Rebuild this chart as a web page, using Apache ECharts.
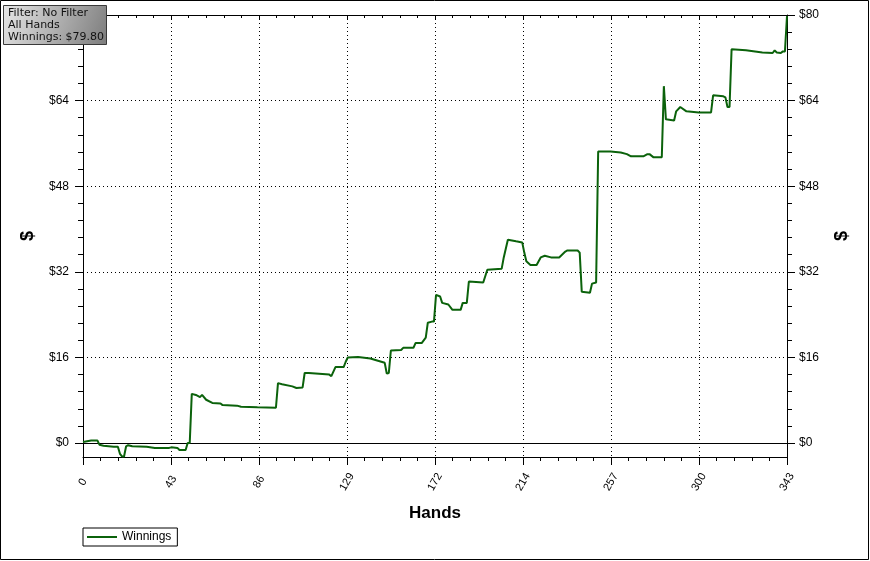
<!DOCTYPE html>
<html><head><meta charset="utf-8">
<script src="https://cdn.jsdelivr.net/npm/echarts@6/dist/echarts.min.js"></script>
<style>html,body{margin:0;padding:0;background:#fff}#c{width:870px;height:561px}</style>
</head><body><div id="c"></div>
<script>
const hands = [0,4,7,8,10,15,17,18,19,20,21,22,24,31,35,42,43,46,47,50,51,52,53,55,57,58,60,63,67,68,75,77,85,94,95,97,102,104,107,108,110,120,121,123,127,128,129,134,140,147,148,149,150,155,156,161,162,165,167,168,170,171,172,174,175,178,180,184,185,187,188,195,197,204,205,207,211,214,215,216,218,221,223,225,228,232,235,236,241,242,243,247,248,250,251,257,262,265,267,273,275,276,278,282,283,284,288,289,291,294,300,306,307,312,313,314,315,316,323,331,336,337,338,340,341,342,343];
const winnings = [0.2,0.5,0.5,-0.3,-0.5,-0.7,-0.7,-2.0,-2.5,-2.5,-0.6,-0.4,-0.6,-0.7,-0.9,-0.9,-0.8,-0.9,-1.3,-1.3,0,0,9.2,9.0,8.6,9.0,8.1,7.5,7.4,7.1,7.0,6.8,6.7,6.6,11.2,11.0,10.6,10.3,10.4,13.1,13.1,12.8,12.5,14.2,14.2,15.2,16.0,16.1,15.8,15.0,13.0,13.1,17.3,17.4,17.8,17.8,18.7,18.7,19.7,22.5,22.7,22.7,27.7,27.4,26.2,25.9,24.9,24.9,26.2,26.2,30.2,30.0,32.4,32.6,34.7,38.0,37.7,37.5,35.6,34.0,33.3,33.3,34.7,35.0,34.7,34.7,35.8,36.0,36.0,35.6,28.3,28.1,29.8,30.0,54.5,54.5,54.3,54.0,53.6,53.6,54.0,54.0,53.4,53.4,66.7,60.5,60.3,62.0,62.8,62.0,61.8,61.8,65.0,64.8,64.6,62.8,62.8,73.6,73.4,73.0,72.9,73.4,73.0,72.9,73.2,73.2,79.8];
const xTickLabels = ['0','43','86','129','172','214','257','300','343'];
const yTickValues = [0,16,32,48,64,80];
const yTickLabels = ['$0','$16','$32','$48','$64','$80'];
const infoLines = ['Filter: No Filter','All Hands','Winnings: $79.80'];
const seriesName = 'Winnings';
const xTitle = 'Hands';
const yTitle = '$';

const X_MIN = 0, X_MAX = 343, X_STEP = X_MAX / (xTickLabels.length - 1);
const Y_MIN = -2.6, Y_MAX = 80;
const yMinor = [];
for (let i = 0; i < yTickValues.length - 1; i++) {
  const a = yTickValues[i], b = yTickValues[i + 1];
  for (let k = 0; k < 5; k++) yMinor.push(+(a + (b - a) * k / 5).toFixed(3));
}
yMinor.push(yTickValues[yTickValues.length - 1]);

const FONT = 'Liberation Sans';
const black = '#000';
const lineColor = '#0b620b';
const labelFmt = v => { const i = yTickValues.indexOf(v); return i >= 0 ? yTickLabels[i] : ''; };

function yAxisBase(pos) {
  return { type: 'value', position: pos, min: Y_MIN, max: Y_MAX };
}
const yAxes = [
  Object.assign(yAxisBase('left'), {
    axisLine: { show: true, lineStyle: { color: black, width: 1 } },
    axisTick: { show: true, length: 5, customValues: yMinor, lineStyle: { color: black } },
    axisLabel: { show: false }, splitLine: { show: false }
  }),
  Object.assign(yAxisBase('left'), {
    axisLine: { show: false },
    axisTick: { show: true, length: 8, customValues: yTickValues, lineStyle: { color: black } },
    axisLabel: { show: true, customValues: yTickValues, formatter: labelFmt, margin: 14, color: black, fontSize: 12, fontFamily: FONT },
    splitLine: { show: true, lineStyle: { color: black, type: [1, 3], width: 1 } },
    name: yTitle, nameLocation: 'middle', nameRotate: 90, nameGap: 46,
    nameTextStyle: { fontSize: 18, fontWeight: 'bold', color: black, fontFamily: FONT }
  }),
  Object.assign(yAxisBase('right'), {
    axisLine: { show: true, lineStyle: { color: black, width: 1 } },
    axisTick: { show: true, length: 5, customValues: yMinor, lineStyle: { color: black } },
    axisLabel: { show: false }, splitLine: { show: false }
  }),
  Object.assign(yAxisBase('right'), {
    axisLine: { show: false },
    axisTick: { show: true, length: 8, customValues: yTickValues, lineStyle: { color: black } },
    axisLabel: { show: true, customValues: yTickValues, formatter: labelFmt, margin: 12, color: black, fontSize: 12, fontFamily: FONT },
    splitLine: { show: false },
    name: yTitle, nameLocation: 'middle', nameRotate: 90, nameGap: 46,
    nameTextStyle: { fontSize: 18, fontWeight: 'bold', color: black, fontFamily: FONT }
  })
];

const option = {
  backgroundColor: '#fff',
  animation: false,
  grid: { left: 83, right: 83, top: 15, bottom: 104, containLabel: false },
  xAxis: [
    {
      type: 'value', position: 'bottom', min: X_MIN, max: X_MAX, interval: X_STEP,
      axisLine: { show: true, onZero: false, lineStyle: { color: black, width: 1 } },
      axisTick: { show: true, length: 8, lineStyle: { color: black } },
      minorTick: { show: true, splitNumber: 5, length: 4, lineStyle: { color: black } },
      axisLabel: {
        rotate: 60, align: 'center', verticalAlign: 'middle', margin: 25,
        formatter: v => xTickLabels[Math.round(v / X_STEP)],
        color: black, fontSize: 11, fontFamily: FONT
      },
      splitLine: { show: true, lineStyle: { color: black, type: [1, 3], width: 1 } },
      name: xTitle, nameLocation: 'middle', nameGap: 48,
      nameTextStyle: { fontSize: 17, fontWeight: 'bold', color: black, fontFamily: FONT }
    },
    {
      type: 'value', position: 'top', min: X_MIN, max: X_MAX, interval: X_STEP,
      axisLine: { show: true, onZero: false, lineStyle: { color: black, width: 1 } },
      axisTick: { show: true, inside: true, length: 5, lineStyle: { color: black } },
      minorTick: { show: true, splitNumber: 5, length: 3, lineStyle: { color: black } },
      axisLabel: { show: false }, splitLine: { show: false }
    }
  ],
  yAxis: yAxes,
  legend: {
    left: 83, top: 528, orient: 'horizontal',
    data: [{ name: seriesName, icon: 'rect', itemStyle: { color: lineColor } }],
    itemWidth: 30, itemHeight: 2, itemGap: 6,
    borderColor: black, borderWidth: 1, borderRadius: 0,
    padding: [3, 6, 3, 4],
    textStyle: { fontSize: 12, color: black, fontFamily: FONT }
  },
  series: [{
    type: 'line', name: seriesName,
    xAxisIndex: 0, yAxisIndex: 0,
    data: hands.map((h, i) => [h, winnings[i]]),
    symbol: 'none', showSymbol: false,
    lineStyle: { color: lineColor, width: 2 },
    itemStyle: { color: lineColor },
    z: 5,
    markLine: {
      silent: true, symbol: 'none', label: { show: false },
      lineStyle: { color: black, type: 'solid', width: 1 },
      data: [{ yAxis: yTickValues[0] }]
    }
  }],
  graphic: [
    { type: 'rect', z: 100, silent: true,
      shape: { x: 0.5, y: 0.5, width: 868, height: 559 },
      style: { fill: 'none', stroke: black, lineWidth: 1 } },
    { type: 'rect', z: 200, silent: true,
      shape: { x: 3.5, y: 5.5, width: 103, height: 39 },
      style: { fill: { type: 'linear', x: 0, y: 0, x2: 1, y2: 1, colorStops: [
          { offset: 0, color: '#e6e6e6' }, { offset: 1, color: '#7c7c7c' }] },
        stroke: '#3a3a3a', lineWidth: 1 } },
    { type: 'text', z: 210, silent: true, x: 8, y: 7,
      style: { text: infoLines.join('\n'), fill: '#111', font: '11px "DejaVu Sans"', lineHeight: 12.2 } }
  ]
};
const chart = echarts.init(document.getElementById('c'), null, { renderer: 'canvas' });
chart.setOption(option);
</script>
</body></html>
